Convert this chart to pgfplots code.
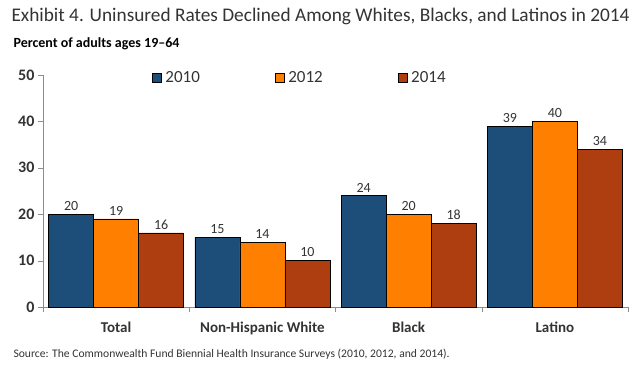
\documentclass[border=0pt]{standalone}
\usepackage{pgfplots}
\pgfplotsset{compat=1.18}
\usepackage{fontspec}
\setmainfont{Carlito}
\definecolor{c10}{HTML}{1D4E7A}
\definecolor{c12}{HTML}{FF8000}
\definecolor{c14}{HTML}{AE3E0F}
\definecolor{txt}{HTML}{333333}
\definecolor{axc}{HTML}{8C8C8C}
\begin{document}
\begin{tikzpicture}[x=1pt,y=1pt]
\path[use as bounding box] (-43,-62) rectangle (593,307);
\begin{axis}[
  scale only axis, width=585pt, height=232pt,
  at={(0,0)}, anchor=south west,
  xmin=-0.5, xmax=3.5, ymin=0, ymax=50,
  ybar, bar width=45pt,
  axis x line*=bottom, axis y line*=left,
  axis line style={axc},
  xtick={0,1,2,3},
  xticklabels={Total,Non-Hispanic White,Black,Latino},
  major x tick style={draw=none},
  minor xtick={-0.5,0.5,1.5,2.5,3.5},
  minor x tick style={axc},
  minor tick length=5pt,
  ytick={0,10,...,50},
  major y tick style={axc},
  major tick length=5pt,
  tick align=outside,
  x tick label style={font=\fontsize{15}{16}\selectfont\bfseries, text=txt, yshift=-6pt},
  y tick label style={font=\fontsize{16}{17}\selectfont\bfseries, text=txt},
  /pgf/number format/assume math mode=true,
  nodes near coords,
  every node near coord/.append style={font=\fontsize{14}{16}\selectfont, text=txt},
  legend style={draw=none, fill=none, at={(0.181,1.035)}, anchor=north west,
    legend columns=3, font=\fontsize{17}{18}\selectfont, text=txt,
    /tikz/every odd column/.append style={column sep=2pt},
    /tikz/every even column/.append style={column sep=73pt}},
  legend image code/.code={\draw[#1,draw=black] (0pt,-4.5pt) rectangle (9pt,4.5pt);},
  clip=false,
]
\addplot[fill=c10, draw=black, bar shift=-45pt] coordinates {(0,20) (1,15) (2,24) (3,39)};
\addplot[fill=c12, draw=black, bar shift=0pt] coordinates {(0,19) (1,14) (2,20) (3,40)};
\addplot[fill=c14, draw=black, bar shift=45pt] coordinates {(0,16) (1,10) (2,18) (3,34)};
\legend{2010,2012,2014}
\end{axis}
\node[anchor=base west, text=txt, font=\fontsize{19.3}{21}\selectfont] at (-35,285) {Exhibit 4. Uninsured Rates Declined Among Whites, Blacks, and Latinos in 2014};
\node[anchor=base west, text=black, font=\fontsize{14}{16}\selectfont\bfseries] at (-33,259) {Percent of adults ages 19--64};
\node[anchor=base west, text=txt, font=\fontsize{11.6}{13}\selectfont] at (-33,-50) {Source: The Commonwealth Fund Biennial Health Insurance Surveys (2010, 2012, and 2014).};
\end{tikzpicture}
\end{document}
